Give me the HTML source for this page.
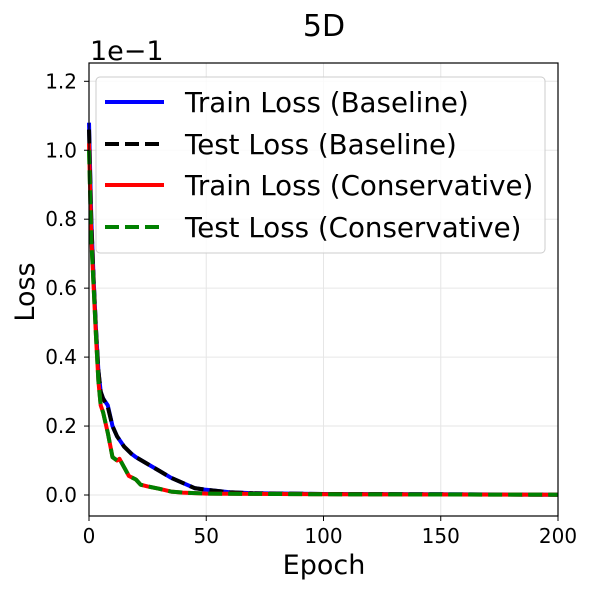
<!DOCTYPE html>
<html><head><meta charset="utf-8"><style>
body{margin:0;background:#fff}
svg text{font-family:"DejaVu Sans","Liberation Sans",sans-serif;fill:#000}
</style></head><body>
<svg id="chart" width="590" height="589" xmlns="http://www.w3.org/2000/svg">
<g id="grid"></g>
<g id="series"></g>
<rect x="89" y="63" width="469" height="453" fill="none" stroke="#000" stroke-width="1.2"/>
<g id="ticks"></g>
<text x="324" y="36" font-size="30" text-anchor="middle">5D</text>
<text x="90" y="60" font-size="27">1e−1</text>
<text x="324" y="574" font-size="27" text-anchor="middle">Epoch</text>
<text x="0" y="0" font-size="27" text-anchor="middle" transform="translate(34,292) rotate(-90)">Loss</text>
<g>
<rect x="96" y="77" width="449" height="176" rx="4" fill="#fff" fill-opacity="0.8" stroke="#ccc"/>
<line x1="105" y1="102" x2="164" y2="102" stroke="#0000ff" stroke-width="4"/>
<text x="185" y="112" font-size="27.7">Train Loss (Baseline)</text>
<line x1="105" y1="144" x2="164" y2="144" stroke="#000" stroke-width="4" stroke-dasharray="14,6"/>
<text x="185" y="154" font-size="27.7">Test Loss (Baseline)</text>
<line x1="105" y1="185" x2="164" y2="185" stroke="#ff0000" stroke-width="4"/>
<text x="185" y="195" font-size="27.7">Train Loss (Conservative)</text>
<line x1="105" y1="227" x2="164" y2="227" stroke="#008000" stroke-width="4" stroke-dasharray="14,6"/>
<text x="185" y="237" font-size="27.7">Test Loss (Conservative)</text>
</g>
</svg>
<script>
const epochsBase=[0,1,2,3,4,5,6,8,10,12,15,18,20,25,30,35,40,45,50,60,70,100,150,200];
const trainBase=[1.08,0.8,0.62,0.48,0.36,0.3,0.28,0.26,0.2,0.17,0.14,0.12,0.11,0.09,0.07,0.05,0.035,0.02,0.015,0.008,0.005,0.003,0.002,0.001];
const testBase=[1.06,0.79,0.62,0.48,0.36,0.3,0.28,0.255,0.2,0.17,0.14,0.12,0.11,0.09,0.07,0.05,0.035,0.02,0.015,0.008,0.005,0.003,0.002,0.001];
const epochsCons=[0,1,2,3,4,5,6,8,10,12,13,15,17,20,22,25,30,35,40,50,100,150,200];
const trainCons=[1.02,0.75,0.6,0.46,0.33,0.26,0.24,0.18,0.11,0.1,0.105,0.08,0.055,0.045,0.03,0.025,0.018,0.01,0.007,0.004,0.002,0.0015,0.001];
const testCons=[1.0,0.74,0.6,0.46,0.33,0.26,0.24,0.18,0.11,0.1,0.105,0.08,0.055,0.045,0.03,0.025,0.018,0.01,0.007,0.004,0.002,0.0015,0.001];
const xTicks=[0,50,100,150,200];
const yTicks=[0.0,0.2,0.4,0.6,0.8,1.0,1.2];
const NS="http://www.w3.org/2000/svg";
const X=v=>89+v*(469/200);
const Y=v=>495-v*344.75;
const grid=document.getElementById('grid'),ticks=document.getElementById('ticks'),series=document.getElementById('series');
function mk(tag,attrs,parent){const e=document.createElementNS(NS,tag);for(const k in attrs)e.setAttribute(k,attrs[k]);parent.appendChild(e);return e;}
xTicks.forEach(t=>{
 const g=mk('line',{x1:X(t),x2:X(t),y1:63,y2:516,stroke:'#e6e6e6','stroke-width':1},grid);
 
 
 const l=mk('line',{x1:X(t),x2:X(t),y1:516,y2:521,stroke:'#000'},ticks);
 
 
 const tx=mk('text',{x:X(t),y:543,'font-size':20,'text-anchor':'middle'},ticks);tx.textContent=t;
 
 
});
yTicks.forEach(t=>{
 const g=mk('line',{x1:89,x2:558,y1:Y(t),y2:Y(t),stroke:'#e6e6e6','stroke-width':1},grid);
 
 
 const l=mk('line',{x1:84,x2:89,y1:Y(t),y2:Y(t),stroke:'#000'},ticks);
 
 
 const tx=mk('text',{x:77,y:Y(t)+7,'font-size':20,'text-anchor':'end'},ticks);tx.textContent=t.toFixed(1);
 
 
});
function draw(xs,ys,color,dash,name){
 const d=xs.map((x,i)=>(i?'L':'M')+X(x).toFixed(1)+','+Y(ys[i]).toFixed(1)).join(' ');
 const p=mk('path',{d:d,fill:'none',stroke:color,'stroke-width':4,'stroke-linejoin':'round'},series);
 if(dash)p.setAttribute('stroke-dasharray','14,6');
 
 
}
draw(epochsBase,trainBase,'#0000ff',false,'train-loss-baseline-line');
draw(epochsBase,testBase,'#000000',true,'test-loss-baseline-line');
draw(epochsCons,trainCons,'#ff0000',false,'train-loss-conservative-line');
draw(epochsCons,testCons,'#008000',true,'test-loss-conservative-line');
</script>
</body></html>
